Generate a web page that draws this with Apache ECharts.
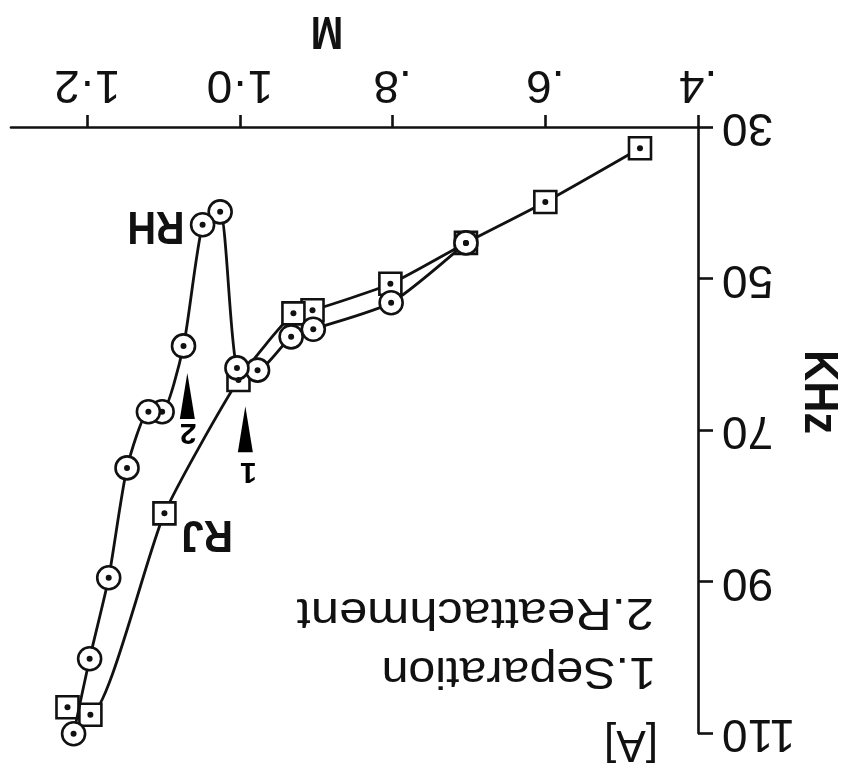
<!DOCTYPE html>
<html>
<head>
<meta charset="utf-8">
<script src="https://cdn.jsdelivr.net/npm/echarts@6/dist/echarts.min.js"></script>
<style>
  html, body { margin: 0; padding: 0; background: #fff; }
  #chart { width: 841px; height: 776px; }
</style>
</head>
<body>
<div id="chart"></div>
<script>
// Mach number (M) tick values and their printed labels
const mTicks = [0.4, 0.6, 0.8, 1.0, 1.2];
const mTickLabels = ['.4', '.6', '.8', '1·0', '1·2'];
// Frequency (KHz) tick values
const khzTicks = [30, 50, 70, 90, 110];

// RJ series (square markers)
const rjM   = [0.476, 0.600, 0.704, 0.803, 0.905, 0.930, 1.002, 1.099, 1.196, 1.226];
const rjKHz = [32.8, 39.9, 45.3, 50.7, 54.2, 54.6, 63.4, 81.0, 107.6, 106.6];

// RH series (circle markers)
const rhM   = [0.704, 0.802, 0.904, 0.933, 0.977, 1.004, 1.026, 1.049, 1.074, 1.102, 1.120, 1.148, 1.172, 1.197, 1.218];
const rhKHz = [45.3, 53.2, 56.7, 57.7, 62.1, 61.8, 41.2, 42.9, 58.9, 67.6, 67.6, 75.0, 89.5, 100.2, 110.1];

// Arrow annotations: 1 = separation, 2 = reattachment
const arrowNames = ['1', '2'];
const arrowM     = [0.993, 1.069];
const arrowKHz   = [69.9, 65.5];
const arrowTagKHz = [75.4, 70.3];
const arrowTagM   = [0.989, 1.068];

const INK = '#111';
const FONT = 'Liberation Sans, Arial, sans-serif';

const pairs = (xs, ys) => xs.map((x, i) => [x, ys[i]]);
const rj = pairs(rjM, rjKHz);
const rh = pairs(rhM, rhKHz);

const chart = echarts.init(document.getElementById('chart'));

function labelFor(v) {
  const i = mTicks.findIndex(t => Math.abs(t - v) < 1e-6);
  return i >= 0 ? mTickLabels[i] : '';
}

const markerStyle = { color: '#fff', borderColor: INK, borderWidth: 2.6 };

const option = {
  animation: false,
  backgroundColor: '#fff',
  grid: { left: 11, right: 143, top: 127, bottom: 43, containLabel: false },
  xAxis: {
    type: 'value',
    position: 'top',
    inverse: true,
    min: 0.4, max: 1.3, interval: 0.2,
    axisLine: { show: true, onZero: false, lineStyle: { color: INK, width: 2.6 } },
    axisTick: { show: true, customValues: mTicks, length: 12, lineStyle: { color: INK, width: 2.6 } },
    axisLabel: {
      customValues: mTicks, formatter: labelFor, rotate: 180, margin: 20,
      fontSize: 46, color: INK, fontFamily: FONT
    },
    splitLine: { show: false }
  },
  yAxis: {
    type: 'value',
    position: 'right',
    inverse: true,
    min: 30, max: 110, interval: 10,
    axisLine: { show: true, onZero: false, lineStyle: { color: INK, width: 2.6 } },
    axisTick: { show: true, customValues: khzTicks, length: 15, lineStyle: { color: INK, width: 2.6 } },
    axisLabel: {
      customValues: khzTicks, rotate: 180, margin: 24,
      fontSize: 46, color: INK, fontFamily: FONT
    },
    splitLine: { show: false }
  },
  series: [
    {
      name: 'RJ', type: 'line', data: rj, smooth: 0.2, clip: false,
      symbol: 'rect', symbolSize: 22, showAllSymbol: true,
      lineStyle: { color: INK, width: 2.8 },
      itemStyle: markerStyle, z: 3
    },
    {
      name: 'RH', type: 'line', data: rh, smooth: 0.2, clip: false,
      symbol: 'circle', symbolSize: 23, showAllSymbol: true,
      lineStyle: { color: INK, width: 2.8 },
      itemStyle: markerStyle, z: 4
    },
    {
      name: 'centres', type: 'scatter', data: rj.concat(rh), clip: false,
      symbol: 'circle', symbolSize: 6, itemStyle: { color: INK, opacity: 1 }, z: 6
    },
    {
      name: 'arrows', type: 'scatter', data: pairs(arrowM, arrowKHz),
      symbol: 'path://M7,0 L14,46 L0,46 Z', symbolSize: [15, 46],
      itemStyle: { color: '#000', opacity: 1 }, z: 5
    },
    {
      name: 'arrowTags', type: 'scatter', data: pairs(arrowTagM, arrowTagKHz),
      symbolSize: 0, z: 5, itemStyle: { opacity: 1 },
      label: {
        show: true, position: 'inside', rotate: 180,
        formatter: p => arrowNames[p.dataIndex],
        fontSize: 30, fontWeight: 'bold', color: '#000', opacity: 1, fontFamily: FONT
      }
    }
  ],
  graphic: [
    { type: 'text', x: 327, y: 30, rotation: Math.PI, scaleX: 0.85,
      style: { text: 'M', font: 'bold 46px ' + FONT, fill: INK, textAlign: 'center', textVerticalAlign: 'middle' } },
    { type: 'text', x: 818, y: 392, rotation: -Math.PI / 2, scaleX: 0.9,
      style: { text: 'KHz', font: 'bold 48px ' + FONT, fill: INK, textAlign: 'center', textVerticalAlign: 'middle' } },
    { type: 'text', x: 156, y: 225, rotation: Math.PI, scaleX: 0.86,
      style: { text: 'RH', font: 'bold 46px ' + FONT, fill: INK, textAlign: 'center', textVerticalAlign: 'middle' } },
    { type: 'text', x: 207, y: 533, rotation: Math.PI, scaleX: 0.9,
      style: { text: 'RJ', font: 'bold 45px ' + FONT, fill: INK, textAlign: 'center', textVerticalAlign: 'middle' } },
    { type: 'text', x: 654, y: 611, rotation: Math.PI, scaleX: 1.15,
      style: { text: '2.Reattachment', font: '44px ' + FONT, fill: INK, textAlign: 'left', textVerticalAlign: 'middle' } },
    { type: 'text', x: 656, y: 670, rotation: Math.PI, scaleX: 1.1,
      style: { text: '1.Separation', font: '44px ' + FONT, fill: INK, textAlign: 'left', textVerticalAlign: 'middle' } },
    { type: 'text', x: 631, y: 743, rotation: Math.PI,
      style: { text: '[A]', font: '44px ' + FONT, fill: INK, textAlign: 'center', textVerticalAlign: 'middle' } }
  ]
};

chart.setOption(option);
</script>
</body>
</html>
